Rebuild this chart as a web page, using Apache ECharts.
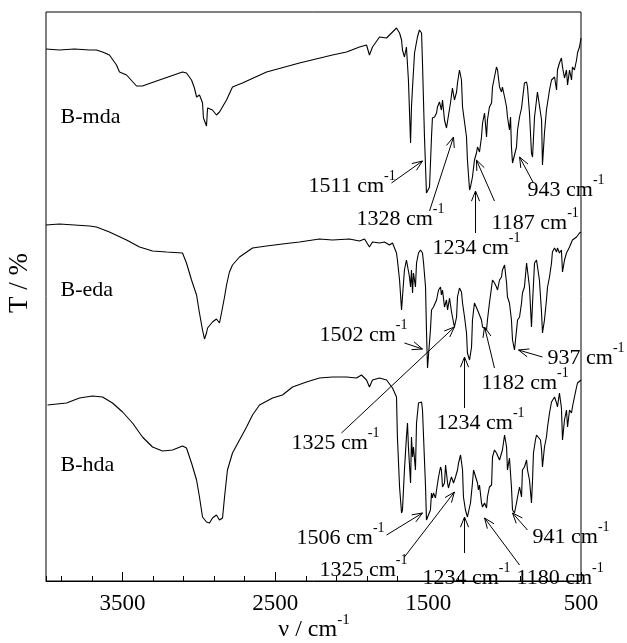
<!DOCTYPE html>
<html>
<head>
<meta charset="utf-8">
<script src="https://cdn.jsdelivr.net/npm/echarts@6/dist/echarts.min.js"></script>
<style>
  html, body { margin: 0; padding: 0; background: #fff; }
  #chart { width: 627px; height: 643px; }
</style>
</head>
<body>
<div id="chart"></div>
<script>
// FTIR transmittance spectra, stacked with vertical offsets: [wavenumber (cm-1), T (offset units)]
const sampleNames = ['B-mda', 'B-eda', 'B-hda'];

const mdaSpectrum = [
  [4000,532],[3912,531],[3814,532],[3715,531],[3670,531],[3630,529],[3585,526],[3539,516],[3519,509],
  [3473,506],[3408,495],[3369,495],[3277,500],[3107,509],[3081,508],[3048,501],[3029,493],[3015,484],
  [2996,486],[2983,481],[2976,478],[2970,463],[2950,455],[2943,473],[2930,474],[2911,471],[2885,466],
  [2865,469],[2819,481],[2780,494],[2715,498],[2557,509],[2342,518],[2126,526],[2034,529],[1949,534],
  [1903,536],[1884,526],[1864,534],[1818,544],[1772,543],[1733,549],[1707,553],[1687,548],[1674,541],
  [1668,531],[1655,524],[1642,534],[1635,533],[1629,501],[1615,438],[1609,474],[1602,494],[1589,528],
  [1570,544],[1557,551],[1543,548],[1537,518],[1524,444],[1511,388],[1504,389],[1491,394],[1478,444],
  [1472,463],[1458,464],[1445,468],[1439,474],[1426,479],[1413,471],[1406,481],[1393,461],[1380,453],
  [1367,454],[1354,478],[1341,493],[1328,481],[1314,489],[1308,498],[1295,511],[1282,501],[1275,474],
  [1249,444],[1243,421],[1229,391],[1223,394],[1210,404],[1197,421],[1184,428],[1177,434],[1164,429],
  [1151,444],[1144,458],[1131,468],[1118,444],[1112,461],[1099,474],[1085,478],[1079,494],[1066,504],
  [1053,514],[1046,511],[1033,494],[1020,489],[1014,494],[1000,484],[987,474],[981,464],[968,451],
  [961,464],[955,434],[948,418],[935,416],[922,434],[915,451],[902,464],[889,473],[883,481],[870,498],
  [856,499],[850,494],[837,468],[824,428],[817,424],[804,464],[791,481],[785,489],[772,488],[758,461],
  [752,416],[739,448],[726,471],[706,491],[693,501],[673,504],[660,491],[654,511],[641,518],[628,523],
  [621,514],[608,503],[595,511],[588,496],[575,511],[562,501],[556,514],[543,511],[529,521],[523,528],
  [510,534],[500,543]
];

const edaSpectrum = [
  [4000,356],[3912,357],[3814,356],[3715,355],[3670,354],[3585,349],[3473,341],[3388,334],[3303,330],
  [3212,329],[3107,328],[3081,318],[3048,301],[3015,286],[2996,268],[2976,251],[2963,242],[2950,248],
  [2943,253],[2911,259],[2885,262],[2865,258],[2852,268],[2832,284],[2819,296],[2800,309],[2780,316],
  [2734,324],[2649,333],[2557,335],[2453,337],[2342,339],[2211,342],[2126,341],[2015,342],[1949,340],
  [1916,342],[1884,334],[1864,339],[1818,338],[1786,339],[1753,336],[1733,338],[1707,328],[1701,321],
  [1687,301],[1674,271],[1668,284],[1655,311],[1642,321],[1635,323],[1622,304],[1615,294],[1609,311],
  [1602,288],[1596,308],[1583,294],[1576,318],[1563,328],[1550,331],[1537,328],[1530,318],[1517,294],
  [1511,251],[1504,213],[1491,214],[1485,251],[1478,271],[1465,274],[1452,273],[1445,281],[1432,291],
  [1419,294],[1413,286],[1406,291],[1393,274],[1380,281],[1373,271],[1360,283],[1347,269],[1341,268],
  [1328,254],[1314,264],[1308,284],[1295,293],[1282,289],[1275,278],[1262,264],[1249,248],[1243,228],
  [1229,221],[1216,234],[1210,261],[1197,278],[1184,279],[1177,271],[1164,271],[1151,261],[1144,254],
  [1131,253],[1118,251],[1112,261],[1099,278],[1085,294],[1079,301],[1066,298],[1053,294],[1046,291],
  [1033,301],[1020,304],[1014,311],[1000,316],[987,298],[981,284],[968,278],[955,261],[948,241],
  [935,231],[922,233],[915,261],[902,264],[889,278],[883,288],[870,294],[856,318],[850,319],[837,294],
  [824,254],[817,278],[804,318],[791,321],[785,319],[772,301],[758,268],[752,248],[739,261],[726,281],
  [719,294],[706,304],[693,318],[687,329],[673,333],[660,329],[654,333],[641,328],[628,331],[621,309],
  [608,321],[595,328],[575,334],[556,341],[529,344],[510,348],[500,349]
];

const hdaSpectrum = [
  [3990,176],[3866,178],[3781,183],[3696,185],[3630,184],[3565,178],[3499,169],[3434,158],[3369,144],
  [3303,134],[3238,130],[3172,131],[3107,135],[3081,133],[3048,118],[3015,101],[2996,84],[2976,64],
  [2950,59],[2930,58],[2911,63],[2898,61],[2885,66],[2865,61],[2845,63],[2832,84],[2813,111],[2780,128],
  [2734,141],[2688,154],[2649,166],[2603,176],[2518,183],[2453,186],[2387,194],[2296,199],[2211,203],
  [2126,204],[2034,204],[1969,203],[1936,206],[1903,201],[1884,194],[1864,201],[1818,203],[1772,201],
  [1733,193],[1707,184],[1701,144],[1687,94],[1674,68],[1668,71],[1655,111],[1642,144],[1635,158],
  [1629,134],[1615,98],[1609,144],[1602,124],[1596,134],[1583,111],[1576,158],[1563,178],[1543,179],
  [1537,171],[1530,144],[1517,94],[1511,61],[1498,59],[1485,71],[1478,88],[1472,83],[1465,88],[1452,83],
  [1445,91],[1432,104],[1419,114],[1413,111],[1406,94],[1393,98],[1386,116],[1373,98],[1367,93],
  [1354,101],[1347,104],[1334,98],[1321,104],[1308,111],[1301,118],[1288,126],[1275,111],[1269,84],
  [1256,71],[1243,64],[1236,66],[1223,78],[1210,98],[1203,111],[1190,111],[1177,98],[1171,91],[1164,96],
  [1151,78],[1144,74],[1131,78],[1118,73],[1112,84],[1099,94],[1085,96],[1079,124],[1066,131],[1053,128],
  [1046,126],[1033,121],[1020,123],[1014,131],[1000,146],[987,134],[981,111],[968,123],[955,94],[948,71],
  [935,68],[922,78],[915,84],[902,94],[889,84],[883,111],[870,114],[856,121],[850,111],[837,101],
  [824,78],[817,101],[811,128],[798,141],[791,146],[778,144],[765,141],[758,131],[752,114],[739,134],
  [726,144],[719,154],[706,168],[693,179],[687,178],[673,184],[660,178],[654,174],[641,188],[628,173],
  [621,141],[608,161],[595,171],[588,154],[575,171],[562,168],[556,174],[543,184],[529,194],[523,198],
  [510,199],[500,201]
];

// x-axis tick labels (cm-1)
const xTickLabels = [3500, 2500, 1500, 500];

// sample name positions [wavenumber, T]
const sampleLabelPos = [[3905, 464], [3905, 291], [3905, 116]];

// peak assignments: label, label anchor, arrow tail, arrow head
const peakLabels = ['1511', '1328', '1234', '1187', '943',
                    '1502', '1325', '1234', '1182', '937',
                    '1506', '1325', '1234', '1180', '941'];
const peakTextPos = [[2283,395],[1969,362],[1472,333],[1085,358],[850,391],
                     [2211,246],[2394,138],[1445,158],[1151,198],[719,223],
                     [2361,43],[2211,11],[1537,3],[922,3],[817,44]];
const peakArrowTail = [[1740,398],[1491,370],[1190,348],[1066,380],[811,398],
                       [1655,238],[2067,148],[1262,173],[1066,213],[752,224],
                       [1772,46],[1655,24],[1262,28],[902,16],[850,51]];
const peakArrowHead = [[1537,420],[1334,444],[1190,390],[1184,421],[902,424],
                       [1537,232],[1328,254],[1262,224],[1131,254],[909,231],
                       [1537,68],[1328,89],[1262,64],[1131,63],[948,68]];

const FONT = '"Liberation Serif", "Times New Roman", serif';

const peakData = peakLabels.map((_, i) => [
  i, peakTextPos[i][0], peakTextPos[i][1],
  peakArrowTail[i][0], peakArrowTail[i][1],
  peakArrowHead[i][0], peakArrowHead[i][1]
]);
const sampleData = sampleNames.map((_, i) => [i, sampleLabelPos[i][0], sampleLabelPos[i][1]]);

const superRich = {
  n: { fontSize: 22, fontFamily: FONT, fill: '#000' },
  s: { fontSize: 14, fontFamily: FONT, fill: '#000', verticalAlign: 'top', padding: [0, 0, 20, 0] }
};

function renderPeak(params, api) {
  const i = api.value(0);
  const t = api.coord([api.value(1), api.value(2)]);
  const a = api.coord([api.value(3), api.value(4)]);
  const b = api.coord([api.value(5), api.value(6)]);
  const ang = Math.atan2(b[1] - a[1], b[0] - a[0]);
  const L = 11, w = 0.38;
  const h1 = [b[0] - L * Math.cos(ang - w), b[1] - L * Math.sin(ang - w)];
  const h2 = [b[0] - L * Math.cos(ang + w), b[1] - L * Math.sin(ang + w)];
  return {
    type: 'group',
    children: [
      { type: 'line', shape: { x1: a[0], y1: a[1], x2: b[0], y2: b[1] },
        style: { stroke: '#000', lineWidth: 1 } },
      { type: 'polyline', shape: { points: [h1, b, h2] },
        style: { stroke: '#000', fill: null, lineWidth: 1 } },
      { type: 'text', x: t[0], y: t[1],
        style: { text: '{n|' + peakLabels[i] + ' cm}{s|-1}', rich: superRich,
                 align: 'left', verticalAlign: 'middle' } }
    ]
  };
}

function renderSample(params, api) {
  const i = api.value(0);
  const p = api.coord([api.value(1), api.value(2)]);
  return {
    type: 'text', x: p[0], y: p[1],
    style: { text: sampleNames[i], font: '22px ' + FONT, fill: '#000',
             align: 'left', verticalAlign: 'middle' }
  };
}

const lineSeries = (name, data) => ({
  name, type: 'line', data, xAxisIndex: 0, yAxisIndex: 0,
  symbol: 'none', smooth: false, clip: true,
  lineStyle: { color: '#000', width: 1.1 }, z: 3, silent: true
});

const chart = echarts.init(document.getElementById('chart'), null, { renderer: 'canvas' });
chart.setOption({
  animation: false,
  backgroundColor: '#fff',
  grid: {
    left: 46, right: 46, top: 12, bottom: 62,
    containLabel: false, outerBoundsMode: 'none',
    show: true, borderColor: '#000', borderWidth: 1
  },
  // axis titles
  graphic: [
    {
      type: 'text', x: 20, y: 283, rotation: Math.PI / 2,
      style: { text: 'T / %', font: '27px ' + FONT, fill: '#000', align: 'center', verticalAlign: 'middle' }
    },
    {
      type: 'text', x: 314, y: 630,
      style: {
        text: '{n|ν / cm}{s|-1}', align: 'center', verticalAlign: 'middle',
        rich: {
          n: { fontSize: 24, fontFamily: FONT, fill: '#000' },
          s: { fontSize: 15, fontFamily: FONT, fill: '#000', verticalAlign: 'top', padding: [0, 0, 20, 0] }
        }
      }
    }
  ],
  xAxis: [
    {
      type: 'value', inverse: true, min: 500, max: 4000, interval: 1000,
      position: 'bottom',
      axisLine: { show: true, lineStyle: { color: '#000', width: 1 } },
      axisTick: { show: true, inside: true, length: 9, lineStyle: { color: '#000' } },
      axisLabel: {
        show: true, margin: 11, fontSize: 23, fontFamily: FONT, color: '#000',
        showMaxLabel: false,
        formatter: v => (xTickLabels.indexOf(v) >= 0 ? String(v) : '')
      },
      splitLine: { show: false }
    },
    {
      type: 'value', inverse: true, min: 500, max: 4000, interval: 200,
      position: 'bottom',
      axisLine: { show: false },
      axisTick: { show: true, inside: true, length: 5, lineStyle: { color: '#000' } },
      axisLabel: { show: false },
      splitLine: { show: false }
    }
  ],
  yAxis: {
    type: 'value', min: 0, max: 569, show: false,
    splitLine: { show: false }
  },
  series: [
    lineSeries(sampleNames[0], mdaSpectrum),
    lineSeries(sampleNames[1], edaSpectrum),
    lineSeries(sampleNames[2], hdaSpectrum),
    { type: 'custom', renderItem: renderPeak, data: peakData, xAxisIndex: 0, yAxisIndex: 0,
      clip: false, z: 5, silent: true },
    { type: 'custom', renderItem: renderSample, data: sampleData, xAxisIndex: 0, yAxisIndex: 0,
      clip: false, z: 5, silent: true }
  ]
});
</script>
</body>
</html>
